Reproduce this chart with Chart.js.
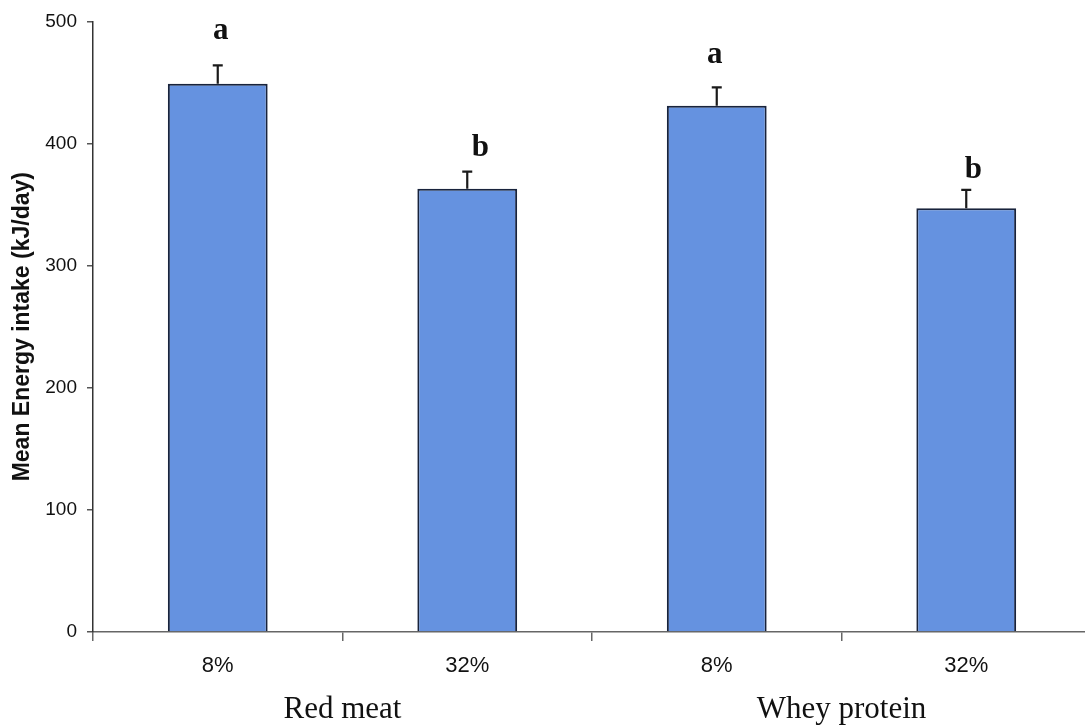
<!DOCTYPE html>
<html>
<head>
<meta charset="utf-8">
<title>Mean energy intake</title>
<script src="https://cdn.jsdelivr.net/npm/chart.js@4/dist/chart.umd.min.js"></script>
<style>
  html, body { margin: 0; padding: 0; background: #fff; overflow: hidden; }
  #wrap { position: relative; width: 1091px; height: 728px; }
</style>
</head>
<body>
<div id="wrap"><canvas id="chart"></canvas></div>
<script>
// Protein level within each protein source
const categories = ['8%', '32%', '8%', '32%'];
// Protein sources, each spanning two bars
const groups = ['Red meat', 'Whey protein'];
// Mean energy intake (kJ/day) and its standard error
const meanIntake = [449, 363, 431, 347];
const stdError = [15, 14, 15, 15];
// Significance letters
const sigLetters = ['a', 'b', 'a', 'b'];
// Y-axis ticks
const yTicks = [0, 100, 200, 300, 400, 500];

// Horizontal nudge and gap (px) for each significance letter
const letterNudge = [[3, 26], [13, 16], [-2, 24], [7, 12]];

const errorBars = {
  id: 'errorBars',
  afterDatasetsDraw(chart) {
    const ctx = chart.ctx;
    const y = chart.scales.y;
    const meta = chart.getDatasetMeta(0);
    ctx.save();
    ctx.strokeStyle = '#1a1a1a';
    ctx.lineWidth = 2.2;
    meta.data.forEach((bar, i) => {
      const top = y.getPixelForValue(meanIntake[i] + stdError[i]);
      const base = y.getPixelForValue(meanIntake[i]);
      ctx.beginPath();
      ctx.moveTo(bar.x, base);
      ctx.lineTo(bar.x, top);
      ctx.moveTo(bar.x - 5, top);
      ctx.lineTo(bar.x + 5, top);
      ctx.stroke();
    });
    ctx.fillStyle = '#111';
    ctx.font = 'bold 31px "Liberation Serif", "Times New Roman", serif';
    ctx.textAlign = 'center';
    ctx.textBaseline = 'alphabetic';
    meta.data.forEach((bar, i) => {
      const top = y.getPixelForValue(meanIntake[i] + stdError[i]);
      ctx.fillText(sigLetters[i], bar.x + letterNudge[i][0], top - letterNudge[i][1]);
    });
    ctx.restore();
  }
};

new Chart(document.getElementById('chart'), {
  type: 'bar',
  data: {
    labels: categories,
    datasets: [{
      data: meanIntake,
      backgroundColor: '#6592e0',
      borderColor: '#18233c',
      borderWidth: 2,
      barPercentage: 0.4,
      categoryPercentage: 1.0
    }]
  },
  plugins: [errorBars],
  options: {
    responsive: true,
    maintainAspectRatio: false,
    devicePixelRatio: 1,
    animation: false,
    layout: { padding: { top: 21, left: 0, right: 0, bottom: 0 } },
    plugins: {
      legend: { display: false },
      tooltip: { enabled: false }
    },
    scales: {
      x: {
        type: 'category',
        position: 'bottom',
        weight: 0,
        offset: true,
        grid: {
          display: true,
          offset: true,
          drawOnChartArea: false,
          drawTicks: true,
          tickLength: 9,
          color: '#666',
          lineWidth: 1.5
        },
        border: { display: true, color: '#666', width: 1.5 },
        ticks: {
          color: '#111',
          padding: 12,
          font: { family: '"Liberation Sans", Arial, sans-serif', size: 22 }
        },
        afterFit(scale) { scale.height = 56; }
      },
      group: {
        type: 'category',
        position: 'bottom',
        weight: 1,
        labels: groups,
        offset: true,
        grid: { display: false, drawTicks: false },
        border: { display: false },
        ticks: {
          color: '#111',
          padding: 3,
          font: { family: '"Liberation Serif", "Times New Roman", serif', size: 31 }
        },
        afterFit(scale) { scale.height = 40; }
      },
      y: {
        min: 0,
        max: 500,
        afterBuildTicks(scale) { scale.ticks = yTicks.map(v => ({ value: v })); },
        grid: {
          display: true,
          drawOnChartArea: false,
          drawTicks: true,
          tickLength: 6,
          color: '#555',
          lineWidth: 1.5
        },
        border: { display: true, color: '#333', width: 1.5 },
        ticks: {
          color: '#111',
          padding: 10,
          font: { family: '"Liberation Sans", Arial, sans-serif', size: 19 }
        },
        title: {
          display: true,
          text: 'Mean Energy intake (kJ/day)',
          color: '#111',
          padding: { top: 9, bottom: 0 },
          font: { family: '"Liberation Sans", Arial, sans-serif', size: 23, weight: 'bold' }
        },
        afterFit(scale) { scale.width = 93; }
      }
    }
  }
});
</script>
</body>
</html>
